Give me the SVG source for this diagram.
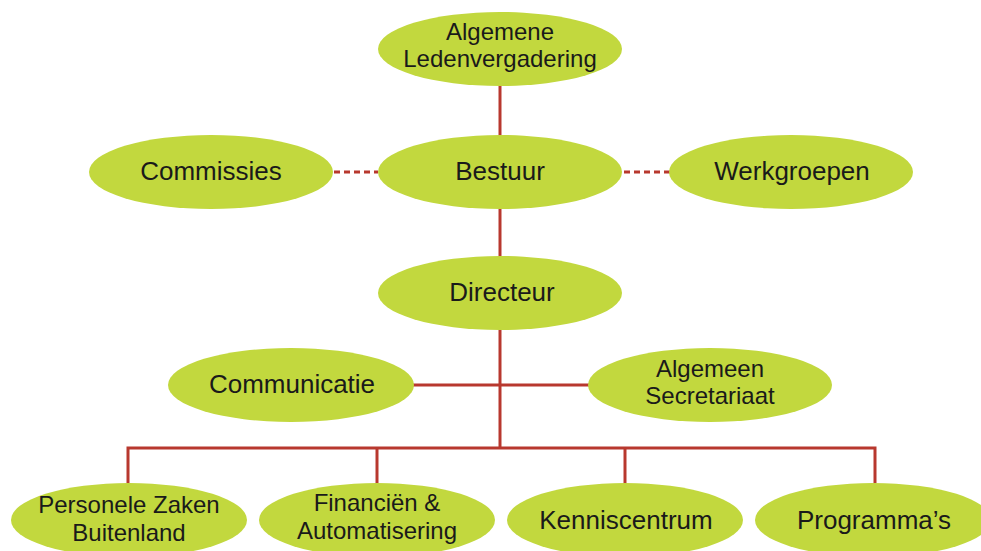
<svg xmlns="http://www.w3.org/2000/svg" width="981" height="551" viewBox="0 0 981 551">
<style>
.n{fill:#c2d83e}
.t{font-family:"Liberation Sans",Arial,sans-serif;font-size:24px;fill:#1a1a1a;text-anchor:middle}
.s{font-size:26px}
.c{stroke:#b8382e;stroke-width:3;fill:none}
.d{stroke:#b8382e;stroke-width:3;fill:none;stroke-dasharray:6 4}
</style>
<rect width="981" height="551" fill="#fff"/>
<g id="connectors">
<line class="c" x1="500" y1="86" x2="500" y2="135"/>
<line class="c" x1="500" y1="208" x2="500" y2="257"/>
<line class="c" x1="500" y1="330" x2="500" y2="448"/>
<line class="d" x1="334" y1="172" x2="378" y2="172"/>
<line class="d" x1="624" y1="172" x2="670" y2="172"/>
<line class="c" x1="413" y1="385" x2="590" y2="385"/>
<polyline class="c" points="128,483 128,448 875,448 875,483"/>
<line class="c" x1="377" y1="448" x2="377" y2="483"/>
<line class="c" x1="625" y1="448" x2="625" y2="483"/>
</g>
<g id="n-alv"><ellipse class="n" cx="500" cy="49" rx="122" ry="37"/><text class="t" x="500" y="40">Algemene</text><text class="t" x="500" y="67">Ledenvergadering</text></g>
<g id="n-commissies"><ellipse class="n" cx="211" cy="172" rx="122" ry="37"/><text class="t s" x="211" y="180">Commissies</text></g>
<g id="n-bestuur"><ellipse class="n" cx="500" cy="172" rx="122" ry="37"/><text class="t s" x="500" y="180">Bestuur</text></g>
<g id="n-werkgroepen"><ellipse class="n" cx="791" cy="172" rx="122" ry="37"/><text class="t s" x="792" y="180">Werkgroepen</text></g>
<g id="n-directeur"><ellipse class="n" cx="500" cy="293" rx="122" ry="37"/><text class="t s" x="502" y="301">Directeur</text></g>
<g id="n-communicatie"><ellipse class="n" cx="291" cy="385" rx="123" ry="37"/><text class="t s" x="292" y="393">Communicatie</text></g>
<g id="n-secretariaat"><ellipse class="n" cx="710" cy="385" rx="122" ry="37"/><text class="t" x="710" y="377">Algemeen</text><text class="t" x="710" y="404">Secretariaat</text></g>
<g id="n-personele"><ellipse class="n" cx="129" cy="520" rx="118" ry="37"/><text class="t" x="129" y="513">Personele Zaken</text><text class="t" x="129" y="541">Buitenland</text></g>
<g id="n-financien"><ellipse class="n" cx="377" cy="520" rx="118" ry="37"/><text class="t" x="377" y="511">Financiën &amp;</text><text class="t" x="377" y="539">Automatisering</text></g>
<g id="n-kennis"><ellipse class="n" cx="625" cy="520" rx="118" ry="37"/><text class="t s" x="626" y="529">Kenniscentrum</text></g>
<g id="n-programmas"><ellipse class="n" cx="873" cy="520" rx="118" ry="37"/><text class="t s" x="874" y="529">Programma’s</text></g>
</svg>
